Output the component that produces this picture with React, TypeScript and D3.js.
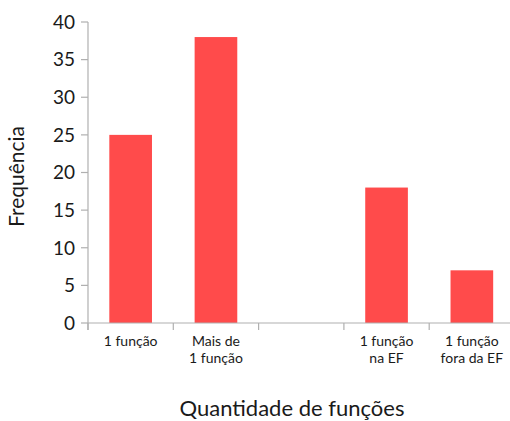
import React from "react";
import * as d3 from "d3";

const categories: string[][] = [["1 função"], ["Mais de", "1 função"], [], ["1 função", "na EF"], ["1 função", "fora da EF"]];
const values: (number | null)[] = [25, 38, null, 18, 7];
const yTicks = [0, 5, 10, 15, 20, 25, 30, 35, 40];

const W = 510, H = 421;
const x0 = 88, x1 = 514.5, yTop = 22, yBot = 323;

export default function App() {
  const idx = categories.map((_, i) => String(i));
  const x = d3.scaleBand<string>().domain(idx).range([x0, x1]).paddingInner(0).paddingOuter(0);
  const y = d3.scaleLinear().domain([0, 40]).range([yBot, yTop]);
  const bw = x.bandwidth() / 2;
  const font = "Lato, 'Open Sans', sans-serif";
  const axisColor = "#b0b0b0";
  return (
    <svg width={W} height={H} style={{ position: "absolute", left: 0, top: 0, background: "#fff" }}>
      {values.map((v, i) =>
        v == null ? null : (
          <rect key={i} x={(x(String(i)) as number) + x.bandwidth() / 2 - bw / 2} y={y(v)} width={bw} height={yBot - y(v)} fill="#ff4b4b" />
        )
      )}
      <line x1={x0} x2={x0} y1={yTop} y2={yBot + 7} stroke={axisColor} strokeWidth={1.2} />
      <line x1={x0} x2={x1} y1={yBot} y2={yBot} stroke={axisColor} strokeWidth={1.2} />
      {yTicks.map((t) => (
        <g key={t}>
          <line x1={x0 - 7} x2={x0} y1={y(t)} y2={y(t)} stroke={axisColor} strokeWidth={1.2} />
          <text x={x0 - 13} y={y(t)} dy="0.36em" textAnchor="end" fontFamily={font} fontSize={19} fill="#1a1a1a">{t}</text>
        </g>
      ))}
      {idx.map((d, i) => (
        <line key={"t" + i} x1={(x(d) as number)} x2={(x(d) as number)} y1={yBot} y2={yBot + 7} stroke={axisColor} strokeWidth={1.2} />
      ))}
      {categories.map((lines, i) => (
        <text key={"c" + i} x={(x(String(i)) as number) + x.bandwidth() / 2} y={346} textAnchor="middle" fontFamily={font} fontSize={14} fill="#1a1a1a">
          {lines.map((l, j) => (
            <tspan key={j} x={(x(String(i)) as number) + x.bandwidth() / 2} dy={j === 0 ? 0 : 17}>{l}</tspan>
          ))}
        </text>
      ))}
      <text transform={`translate(24,${(yTop + yBot) / 2 + 4}) rotate(-90)`} textAnchor="middle" fontFamily={font} fontSize={21} fill="#1a1a1a">Frequência</text>
      <text x={292} y={416} textAnchor="middle" fontFamily={font} fontSize={22} fill="#1a1a1a">Quantidade de funções</text>
    </svg>
  );
}
